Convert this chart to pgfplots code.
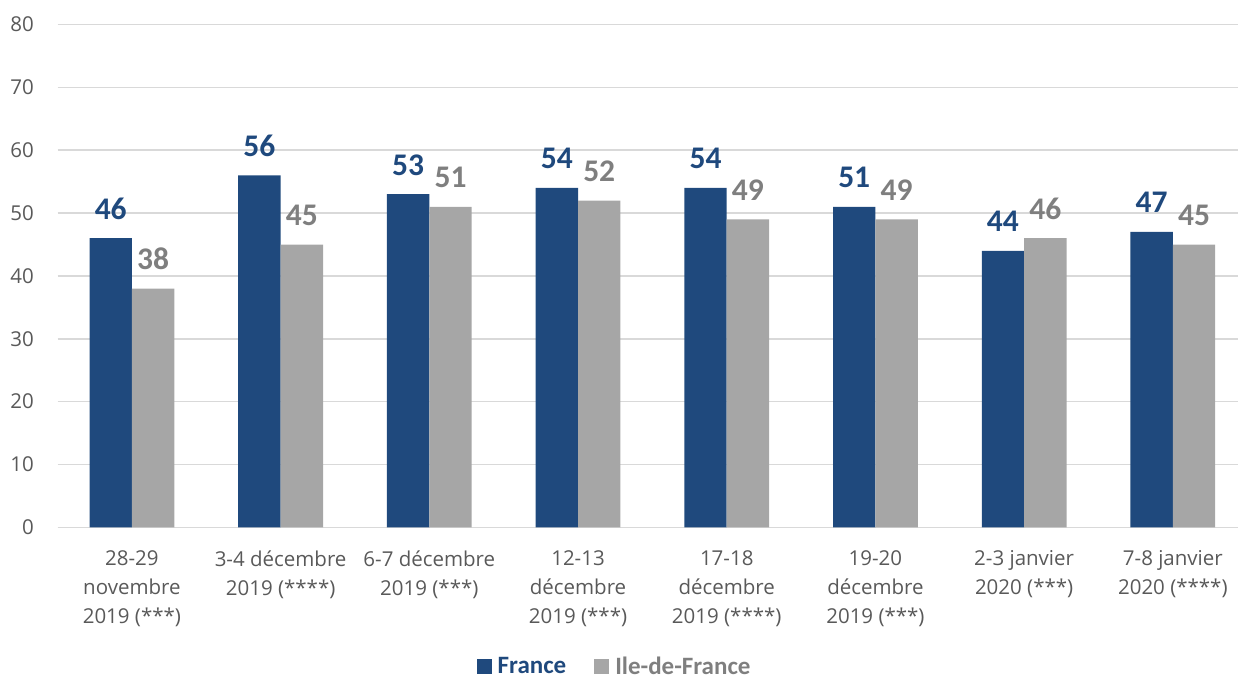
\documentclass[border=0pt]{standalone}
\usepackage{fontspec}
\setmainfont{Open Sans}
\newfontfamily\calfont{Carlito}
\usepackage{pgfplots}
\pgfplotsset{compat=1.18}
\definecolor{frblue}{HTML}{1F497D}
\definecolor{idfgray}{HTML}{A6A6A6}
\definecolor{lblgray}{HTML}{7F7F7F}
\definecolor{tickgray}{HTML}{595959}
\definecolor{gridgray}{HTML}{D9D9D9}
\begin{document}
\begin{tikzpicture}
\begin{axis}[
  scale only axis,
  width=1181.4pt, height=503.2pt,
  xmin=-0.5, xmax=7.44,
  ymin=0, ymax=80,
  ytick={0,10,...,80},
  xtick={0,...,7},
  xticklabels={{28-29\\novembre\\2019 (***)},{3-4 décembre\\2019 (****)},{6-7 décembre\\2019 (***)},{12-13\\décembre\\2019 (***)},{17-18\\décembre\\2019 (****)},{19-20\\décembre\\2019 (***)},{2-3 janvier\\2020 (***)},{7-8 janvier\\2020 (****)}},
  /pgf/number format/assume math mode=true,
  major tick length=0pt,
  axis lines*=left,
  x axis line style={draw=gridgray, line width=1.5pt, -},
  y axis line style={draw=none},
  ymajorgrids,
  grid style={draw=gridgray, line width=1.5pt},
  ticklabel style={font=\fontsize{20.5}{29}\selectfont, text=tickgray},
  yticklabel style={anchor=east, inner sep=0pt, xshift=-23.5pt},
  xticklabel style={anchor=north, inner sep=0pt, yshift=-23pt, align=center},
  ybar, bar width=0.285,
  nodes near coords,
  nodes near coords style={anchor=base, yshift=19pt, font=\calfont\bfseries\fontsize{31.5}{32}\selectfont},
  legend columns=2,
  legend style={at={(0.4718,0)}, anchor=center, yshift=-139pt, draw=none, fill=none,
    font=\calfont\bfseries\fontsize{25}{28}\selectfont,
    /tikz/every even column/.append style={column sep=26pt}},
  legend image code/.code={\fill[#1] (0pt,-7.5pt) rectangle (15pt,7.5pt); \path (19pt,0pt);},
  clip=false,
]
\addplot[fill=frblue, draw=none, bar shift=-0.1425, nodes near coords style={text=frblue}]
  coordinates {(0,46) (1,56) (2,53) (3,54) (4,54) (5,51) (6,44) (7,47)};
\addlegendentry{\textcolor{frblue}{France}}
\addplot[fill=idfgray, draw=none, bar shift=0.1425, nodes near coords style={text=lblgray}]
  coordinates {(0,38) (1,45) (2,51) (3,52) (4,49) (5,49) (6,46) (7,45)};
\addlegendentry{\textcolor{lblgray}{Ile-de-France}}
\end{axis}
\path[use as bounding box] ([xshift=-57.6pt,yshift=-149.3pt]current axis.south west) rectangle ([yshift=24.5pt]current axis.north east);
\end{tikzpicture}
\end{document}
